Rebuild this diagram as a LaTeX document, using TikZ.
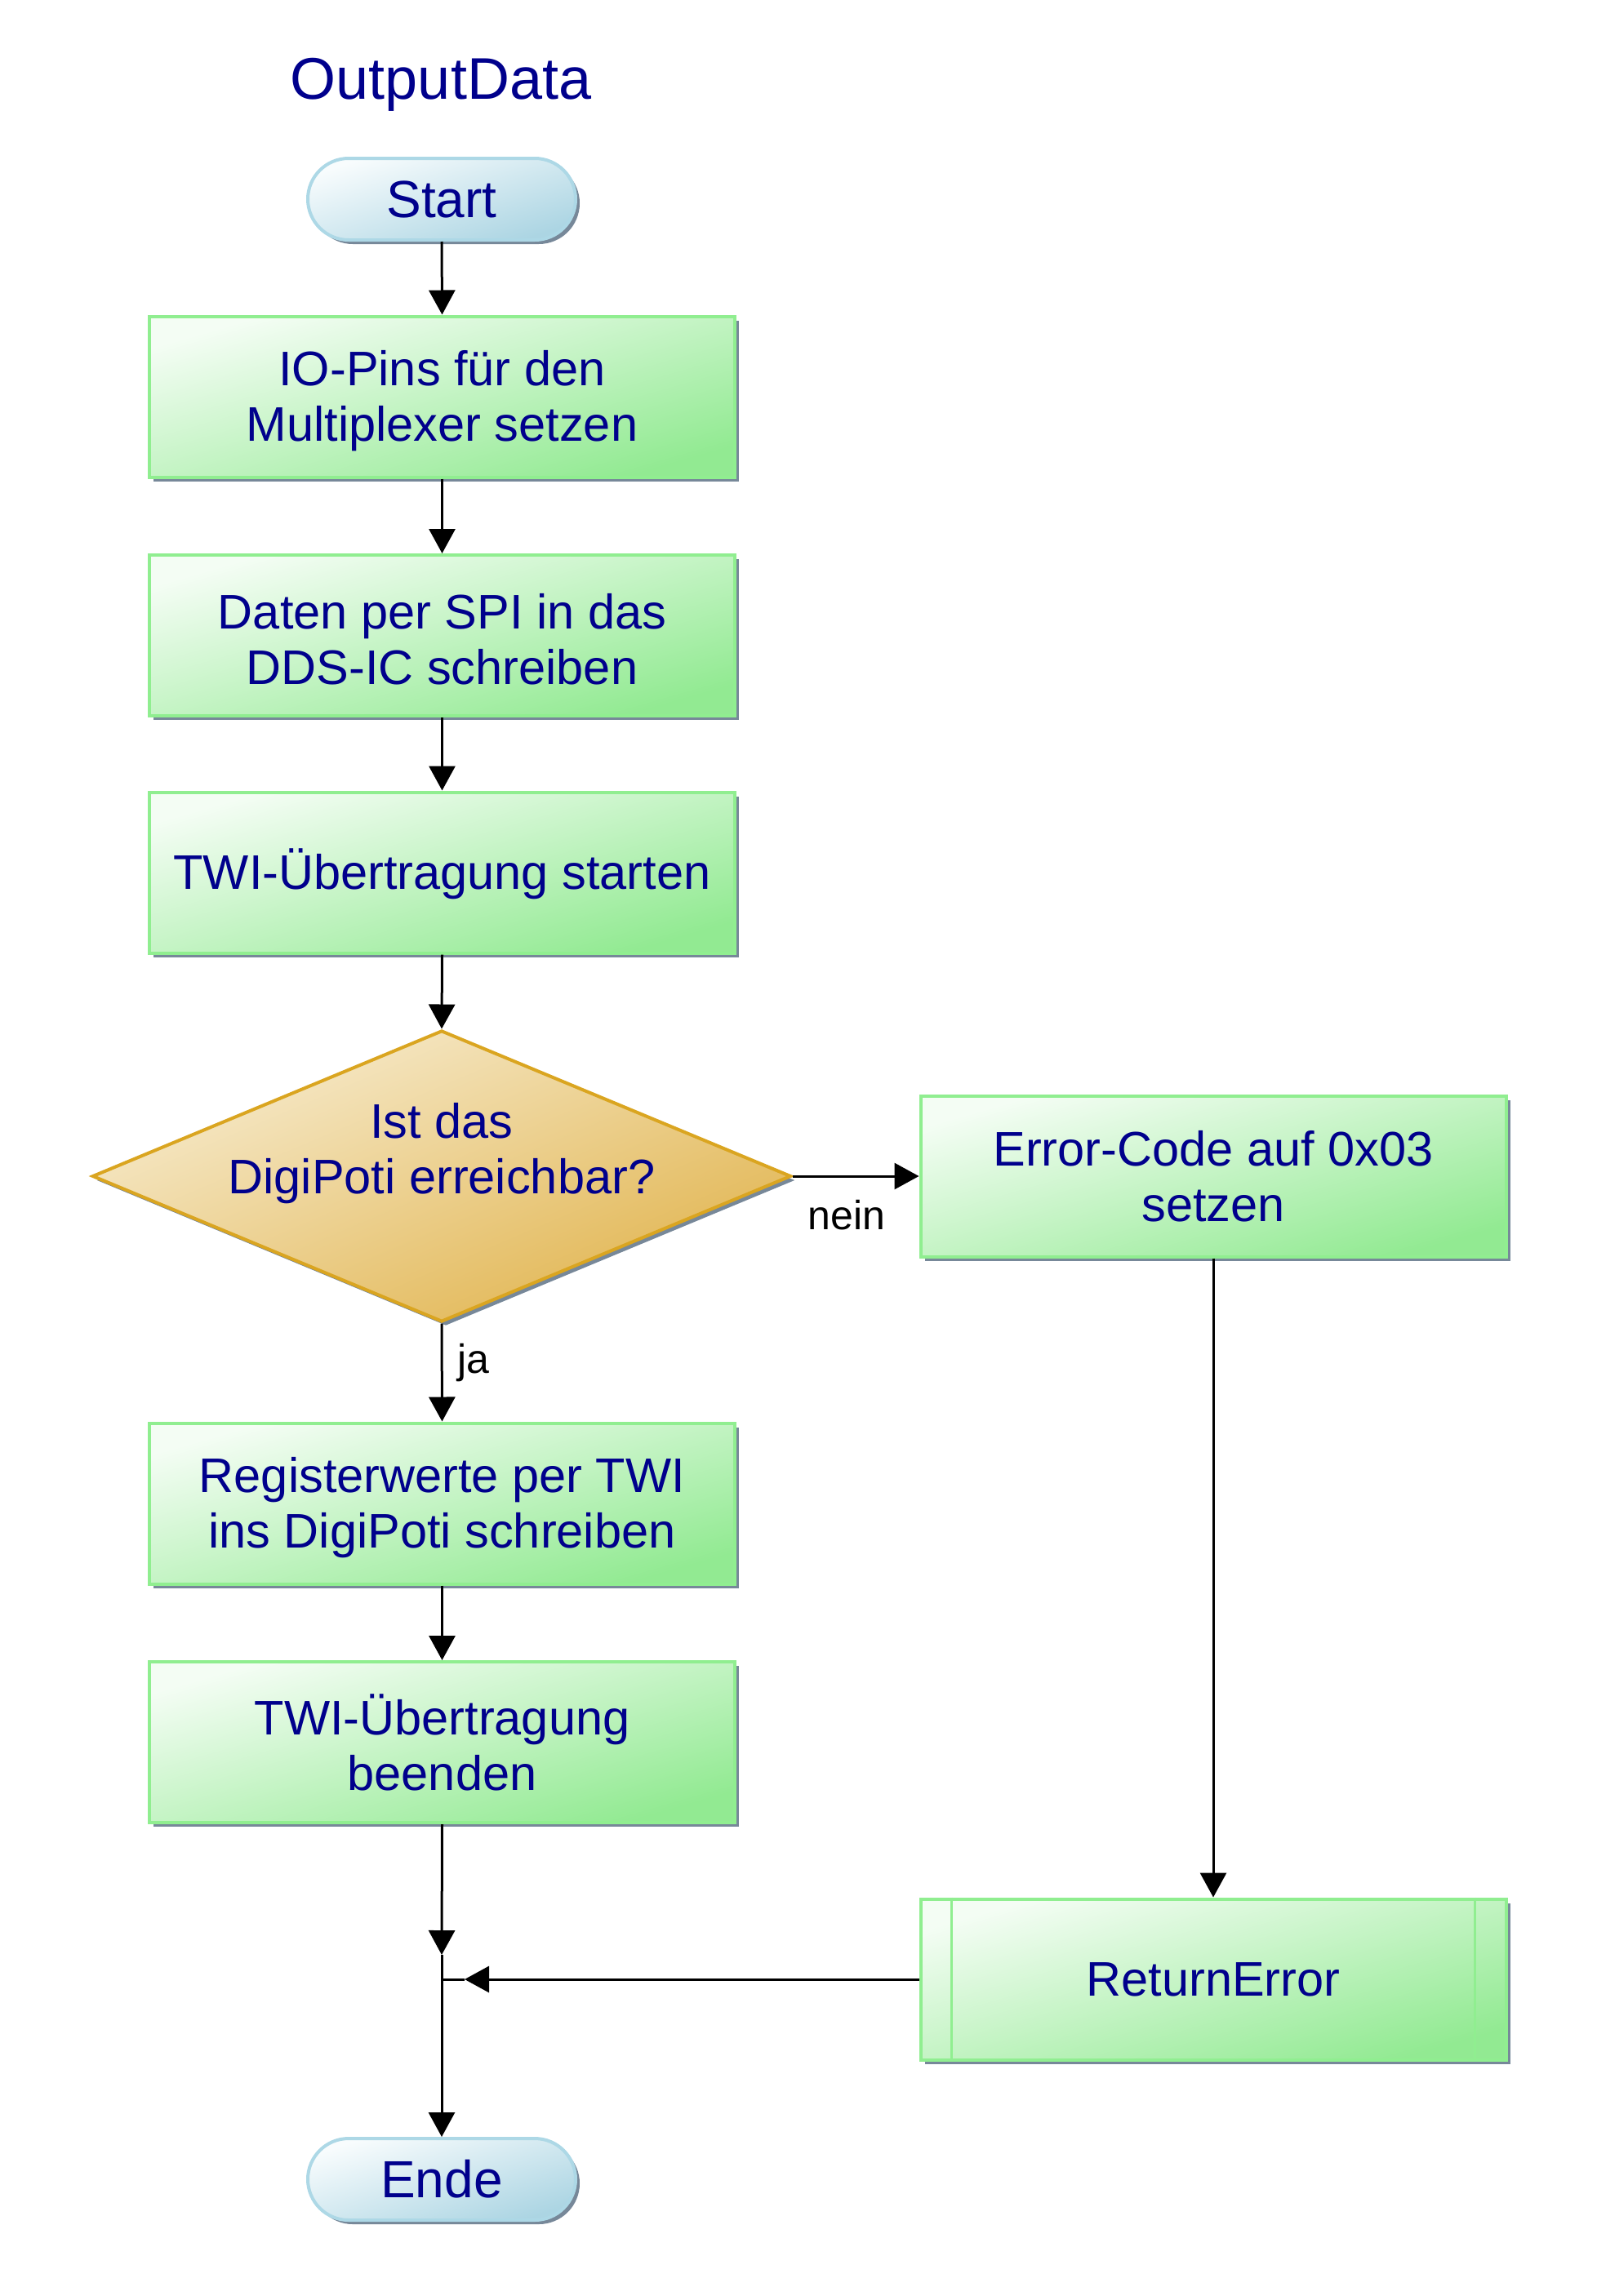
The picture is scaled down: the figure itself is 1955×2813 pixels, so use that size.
\documentclass[tikz,border=0pt]{standalone}
\usepackage{fontspec}
\setmainfont{Liberation Sans}
\usetikzlibrary{shapes.geometric,arrows.meta,shadows}
\definecolor{txtnavy}{RGB}{0,0,140}
\definecolor{grnborder}{RGB}{144,238,144}
\definecolor{grnlight}{RGB}{244,253,244}
\definecolor{grndark}{RGB}{146,234,146}
\definecolor{bluborder}{RGB}{173,216,230}
\definecolor{blulight}{RGB}{248,252,253}
\definecolor{bludark}{RGB}{172,213,227}
\definecolor{gldborder}{RGB}{218,165,32}
\definecolor{gldlight}{RGB}{247,236,208}
\definecolor{glddark}{RGB}{225,180,78}
\definecolor{shdw}{RGB}{119,136,153}
\newcommand{\topstrut}{\rule{0pt}{0.9em}}
\tikzset{
  myshadow/.style={general shadow={fill=shdw, shadow xshift=5pt, shadow yshift=-5pt}},
  boxtext/.style={text=txtnavy, align=center, font=\fontsize{59.5}{68}\selectfont},
  procbox/.style={myshadow, rectangle, draw=grnborder, line width=4pt,
    top color=grnlight, bottom color=grndark, shading angle=16,
    minimum width=717, minimum height=197, inner sep=0pt, boxtext},
  termbox/.style={myshadow, rectangle, rounded corners=50pt, draw=bluborder, line width=4pt,
    top color=blulight, bottom color=bludark, shading angle=18,
    minimum width=328, minimum height=100, inner sep=0pt, text=txtnavy,
    font=\fontsize{64}{72}\selectfont},
  decbox/.style={myshadow, diamond, aspect=2.4, draw=gldborder, line width=4pt,
    top color=gldlight, bottom color=glddark, shading angle=23,
    minimum width=856, minimum height=357, inner sep=0pt},
  conn/.style={line width=3pt, draw=black},
  arr/.style={conn, -{Triangle[length=30pt, width=32pt]}},
  lbl/.style={text=black, font=\fontsize{50}{58}\selectfont, anchor=base, inner sep=0pt}
}
\begin{document}
\begin{tikzpicture}[x=1pt,y=-1pt]
\useasboundingbox (0,0) rectangle (1955,2813);
\node[text=txtnavy, font=\fontsize{72}{80}\selectfont] (title) at (540,104) {OutputData};
\node[termbox] (start) at (541,244) {Start};
\node[procbox] (b1) at (541.5,486) {\topstrut IO-Pins für den\\Multiplexer setzen};
\node[procbox] (b2) at (541.5,778.5) {\topstrut Daten per SPI in das\\DDS-IC schreiben};
\node[procbox] (b3) at (541.5,1069) {\topstrut TWI-Übertragung starten};
\node[decbox] (d) at (541,1441) {};
\node[boxtext, inner sep=0pt] (dt) at (541,1413) {Ist das\\DigiPoti erreichbar?};
\node[procbox] (err) at (1486,1441) {Error-Code auf 0x03\\setzen};
\node[procbox] (b4) at (541.5,1842) {\topstrut Registerwerte per TWI\\ins DigiPoti schreiben};
\node[procbox] (b5) at (541.5,2134.5) {TWI-Übertragung\\beenden};
\node[procbox] (ret) at (1486,2425) {ReturnError};
\draw[draw=grnborder, line width=3pt] ([xshift=40pt]ret.north west) -- ([xshift=40pt]ret.south west);
\draw[draw=grnborder, line width=3pt] ([xshift=-40pt]ret.north east) -- ([xshift=-40pt]ret.south east);
\node[termbox] (ende) at (541,2670) {Ende};
\coordinate (j) at (541,2425);
\coordinate (jt) at (541,2395);
\coordinate (jr) at (569,2425);
\draw[arr] (start.south) -- (b1.north);
\draw[arr] (b1.south) -- (b2.north);
\draw[arr] (b2.south) -- (b3.north);
\draw[arr] (b3.south) -- (d.north);
\draw[arr] (d.east) -- (err.west);
\draw[arr] (d.south) -- (b4.north);
\draw[arr] (b4.south) -- (b5.north);
\draw[arr] (err.south) -- (ret.north);
\draw[arr] (b5.south) -- (jt);
\draw[arr] (jt) -- (ende.north);
\draw[arr] (ret.west) -- (jr);
\draw[conn] (jr) -- (j);
\node[lbl] (nein) at (1037,1506) {nein};
\node[lbl] (ja) at (580,1682) {ja};
\end{tikzpicture}
\end{document}
